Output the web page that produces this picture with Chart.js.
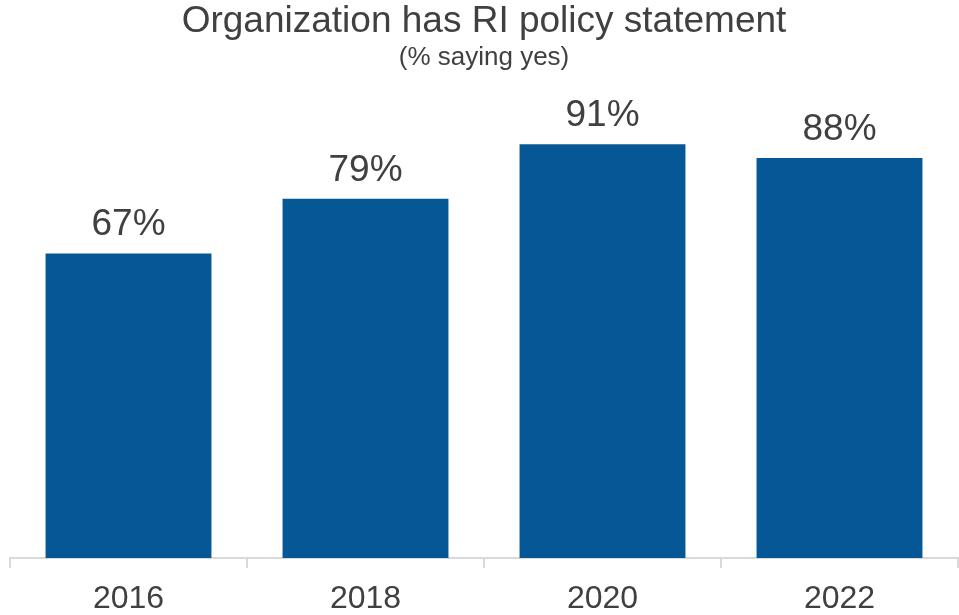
<!DOCTYPE html>
<html>
<head>
<meta charset="utf-8">
<script src="https://cdn.jsdelivr.net/npm/chart.js@4.4.0/dist/chart.umd.min.js"></script>
<style>
  html, body { margin: 0; padding: 0; background: #fff; }
  #wrap { width: 959px; height: 615px; position: relative; }
</style>
</head>
<body>
<div id="wrap"><canvas id="policyChart"></canvas></div>
<script>
const years = ['2016', '2018', '2020', '2022'];
const yesShare = [67, 79, 91, 88];

const FONT = "'Liberation Sans', Arial, sans-serif";
const TEXT = '#404040';

// writes the percentage above each bar
const barValueLabels = {
    id: 'barValueLabels',
    afterDatasetsDraw(chart) {
        const ctx = chart.ctx;
        const meta = chart.getDatasetMeta(0);
        ctx.save();
        ctx.font = `37px ${FONT}`;
        ctx.fillStyle = TEXT;
        ctx.textAlign = 'center';
        ctx.textBaseline = 'bottom';
        meta.data.forEach((bar, i) => {
            ctx.fillText(`${yesShare[i]}%`, bar.x, bar.y - 10);
        });
        ctx.restore();
    }
};

new Chart(document.getElementById('policyChart'), {
    type: 'bar',
    data: {
        labels: years,
        datasets: [{
            data: yesShare,
            backgroundColor: '#065795',
            barPercentage: 0.7,
            categoryPercentage: 1.0
        }]
    },
    options: {
        responsive: true,
        maintainAspectRatio: false,
        animation: false,
        // the year labels sit close to the bottom edge
        layout: { padding: { left: 10, right: 1, top: 0, bottom: -15 } },
        plugins: {
            legend: { display: false },
            tooltip: { enabled: false },
            title: {
                display: true,
                text: 'Organization has RI policy statement',
                color: TEXT,
                font: { family: FONT, size: 37, weight: 'normal', lineHeight: 1.2 },
                padding: { top: 0, bottom: 0 }
            },
            subtitle: {
                display: true,
                text: '(% saying yes)',
                color: TEXT,
                font: { family: FONT, size: 26, weight: 'normal', lineHeight: 1 },
                padding: { top: 0, bottom: 33 }
            }
        },
        scales: {
            x: {
                grid: {
                    offset: true,
                    drawOnChartArea: false,
                    drawTicks: true,
                    tickLength: 10,
                    lineWidth: 2,
                    color: '#d9d9d9'
                },
                border: { color: '#d9d9d9', width: 2 },
                ticks: {
                    color: TEXT,
                    padding: 15,
                    font: { family: FONT, size: 32, lineHeight: 1 }
                }
            },
            y: {
                display: false,
                min: 0,
                max: 100
            }
        }
    },
    plugins: [barValueLabels]
});
</script>
</body>
</html>
